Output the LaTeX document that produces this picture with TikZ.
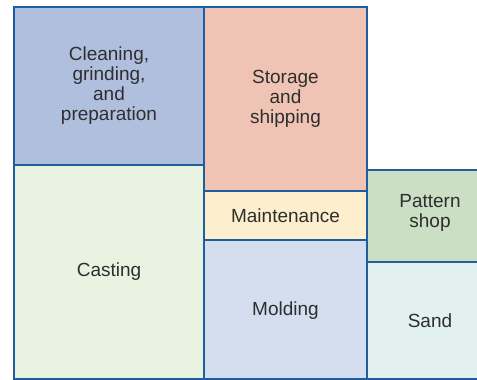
\documentclass[tikz,border=0pt]{standalone}
\usepackage{fontspec}
\setmainfont{Liberation Sans}
\usepackage{tikz}

\definecolor{wallblue}{HTML}{1F5E9E}
\definecolor{labelgray}{HTML}{2E2E2E}
\definecolor{cleanfill}{HTML}{B0BFDD}
\definecolor{castfill}{HTML}{E8F3E2}
\definecolor{storefill}{HTML}{EFC4B4}
\definecolor{maintfill}{HTML}{FDEFCD}
\definecolor{moldfill}{HTML}{D4DEEE}
\definecolor{patternfill}{HTML}{CADFC4}
\definecolor{sandfill}{HTML}{E2F1EF}

\tikzset{
  room/.style={draw=wallblue, line width=1.3pt},
  roomlabel/.style={text=labelgray, align=center, font=\fontsize{9.5}{10}\selectfont, inner sep=0pt}
}

\begin{document}
\begin{tikzpicture}[x=0.5pt, y=-0.5pt]
  \useasboundingbox (0,0) rectangle (477,380);
  \clip (0,0) rectangle (477,380);

  % left column
  \path[room, fill=cleanfill] (14,7) rectangle (204,165);
  \path[room, fill=castfill] (14,165) rectangle (204,379);
  \node[roomlabel] (clean) at (109,86) {Cleaning,\\grinding,\\and\\preparation};
  \node[roomlabel] (cast) at (109,272) {Casting};

  % middle column
  \path[room, fill=storefill] (204,7) rectangle (367,191);
  \path[room, fill=maintfill] (204,191) rectangle (367,240);
  \path[room, fill=moldfill] (204,240) rectangle (367,379);
  \node[roomlabel] (store) at (285.5,99) {Storage\\and\\shipping};
  \node[roomlabel] (maint) at (285.5,216) {Maintenance};
  \node[roomlabel] (mold) at (285.5,311) {Molding};

  % right column
  \path[room, fill=patternfill] (367,170) rectangle (494,262);
  \path[room, fill=sandfill] (367,262) rectangle (494,379);
  \node[roomlabel] (pattern) at (430,213) {Pattern\\shop};
  \node[roomlabel] (sand) at (430,321) {Sand};
\end{tikzpicture}
\end{document}
